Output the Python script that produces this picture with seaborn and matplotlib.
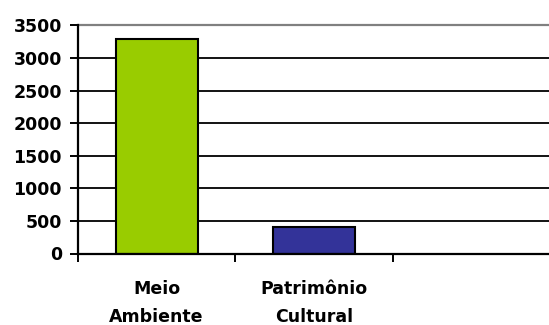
import matplotlib
matplotlib.use("Agg")
import matplotlib.pyplot as plt
import seaborn as sns
import pandas as pd

# Data
categories = ["Meio\nAmbiente", "Patrimônio\nCultural"]
values = [3290, 410]
bar_colors = ["#99CC00", "#333399"]
y_ticks = [0, 500, 1000, 1500, 2000, 2500, 3000, 3500]

sns.set_style("white")
plt.rcParams["font.family"] = ["DejaVu Sans"]
plt.rcParams["text.color"] = "black"
plt.rcParams["xtick.color"] = "black"
plt.rcParams["ytick.color"] = "black"

df = pd.DataFrame({"categoria": categories, "valor": values})

fig = plt.figure(figsize=(5.49, 3.25), dpi=100)
ax = fig.add_axes([0.142, 0.22, 0.86, 0.702])

sns.barplot(data=df, x="categoria", y="valor", hue="categoria",
            palette=bar_colors, order=categories, hue_order=categories,
            width=0.52, edgecolor="black", linewidth=1.5, saturation=1,
            legend=False, ax=ax)

ax.set_xlim(-0.5, 2.5)
ax.set_ylim(0, 3500)
ax.set_xlabel("")
ax.set_ylabel("")

# y axis
ax.set_yticks(y_ticks)
ax.set_yticklabels([str(v) for v in y_ticks], fontsize=12.5, fontweight="bold",
                   color="black")
ax.tick_params(axis="y", left=True, direction="out", length=5.5, width=1.4,
               color="black", pad=6)

# x axis: ticks between categories, labels centred under each bar
ax.set_xticks([-0.5, 0.5, 1.5, 2.5])
ax.set_xticklabels([])
ax.set_xticks([0, 1], minor=True)
ax.set_xticklabels(categories, minor=True, fontsize=12.5, fontweight="bold",
                   linespacing=1.75, color="black")
ax.tick_params(axis="x", which="major", bottom=True, direction="out", length=6,
               width=1.4, color="black")
ax.tick_params(axis="x", which="minor", bottom=True, length=0, pad=19)

# gridlines
ax.set_axisbelow(True)
ax.yaxis.grid(True, color="black", linewidth=1.3)
top_line = ax.get_ygridlines()[-1]
top_line.set_color("#808080")
top_line.set_linewidth(1.6)
top_line.set_clip_on(False)

for side in ["right", "top"]:
    ax.spines[side].set_visible(False)
for side in ["left", "bottom"]:
    ax.spines[side].set_color("black")
    ax.spines[side].set_linewidth(1.6)

fig.savefig("out.png", dpi=100)
